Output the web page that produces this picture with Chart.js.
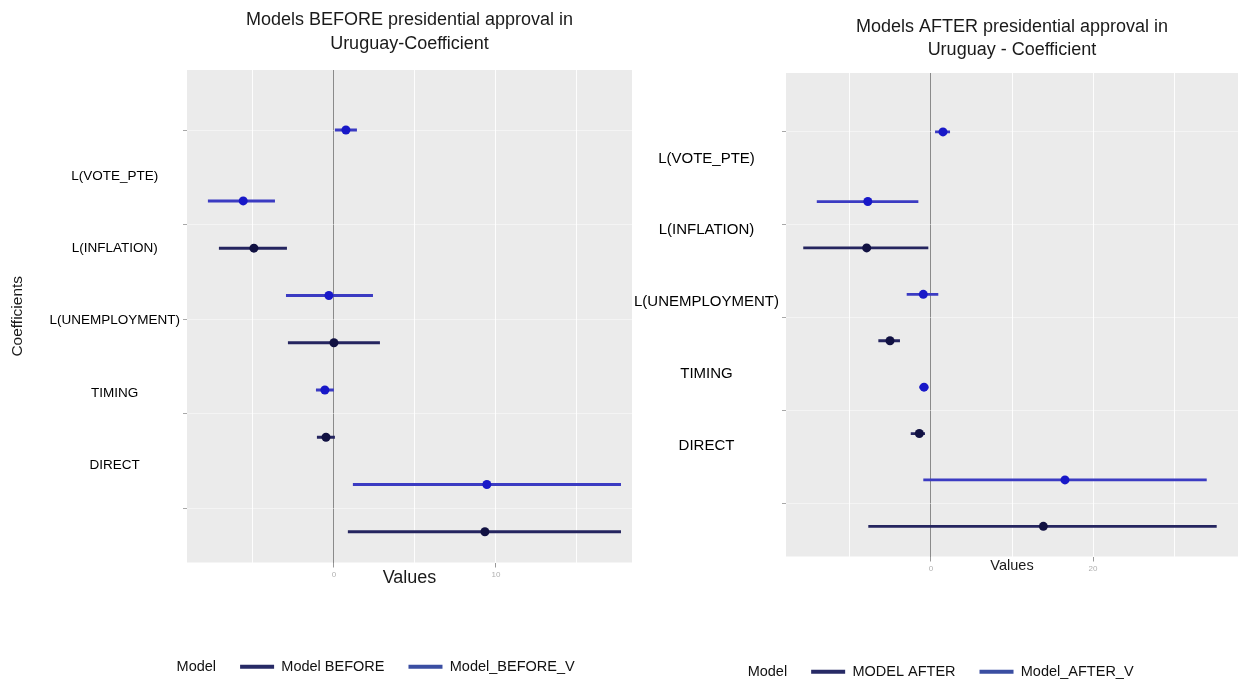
<!DOCTYPE html>
<html>
<head>
<meta charset="utf-8">
<script src="https://cdn.jsdelivr.net/npm/chart.js@4/dist/chart.umd.min.js"></script>
<style>
  html, body { margin: 0; padding: 0; background: #fff; overflow: hidden; width: 1239px; height: 682px; }
  #wrap { position: relative; width: 1239px; height: 682px; overflow: hidden; }
  canvas { position: absolute; top: 0; }
  #before { left: 0; }
  #after { left: 560px; }
</style>
</head>
<body>
<div id="wrap">
  <canvas id="before" width="710" height="684"></canvas>
  <canvas id="after" width="720" height="689"></canvas>
</div>
<script>
// Coefficient names shown on the left of each panel
const coefficients = ['L(VOTE_PTE)', 'L(INFLATION)', 'L(UNEMPLOYMENT)', 'TIMING', 'DIRECT'];

// Estimates and interval bounds, model BEFORE
const beforeEst   = [null, -4.94, 0.00, -0.49, 9.32];
const beforeLow   = [null, -7.10, -2.84, -1.05, 0.86];
const beforeHigh  = [null, -2.90, 2.84, 0.06, 17.72];
const beforeVEst  = [0.74, -5.60, -0.31, -0.56, 9.44];
const beforeVLow  = [0.06, -7.78, -2.96, -1.11, 1.17];
const beforeVHigh = [1.42, -3.64, 2.41, 0.00, 17.72];
const beforeTickLabels = [0, 10];

// Estimates and interval bounds, model AFTER
const afterEst   = [null, -7.94, -5.06, -1.44, 13.87];
const afterLow   = [null, -15.77, -6.50, -2.50, -7.74];
const afterHigh  = [null, -0.33, -3.83, -0.74, 35.27];
const afterVEst  = [1.48, -7.80, -0.95, -0.86, 16.54];
const afterVLow  = [0.50, -14.10, -3.00, -1.44, -0.95];
const afterVHigh = [2.35, -1.56, 0.90, -0.33, 34.04];
const afterTickLabels = [0, 20];

const FONT = "'Liberation Sans', Arial, sans-serif";
const DARK_LINE = '#25255f';
const DARK_POINT = '#111142';
const BLUE_LINE = '#3b3bc2';
const BLUE_POINT = '#1818c8';
const DARK_KEY = '#272a66';
const BLUE_KEY = '#3a4ea2';

const Y_MIN = -1.27, Y_MAX = 9.15;

// grey panel behind the data, like a ggplot theme
const plotBackground = {
  id: 'plotBackground',
  beforeDraw(chart) {
    const { ctx, chartArea: a } = chart;
    ctx.save();
    ctx.fillStyle = '#ebebeb';
    ctx.fillRect(a.left, a.top, a.width, a.height);
    ctx.restore();
  }
};

// one point series plus one segment per interval, dodged around each coefficient row
function buildSeries(label, est, low, high, other, offset, lineColor, pointColor, lineWidth) {
  const points = [];
  const bars = [];
  est.forEach((v, i) => {
    if (v == null) return;
    const y = other[i] == null ? 2 * i : 2 * i + offset;
    points.push({ x: v, y });
    bars.push({
      type: 'scatter', label, showLine: true,
      data: [{ x: low[i], y }, { x: high[i], y }],
      borderColor: lineColor, borderWidth: lineWidth,
      pointRadius: 0, pointHoverRadius: 0
    });
  });
  return {
    points: {
      type: 'scatter', label, data: points,
      pointRadius: 4.5, pointHoverRadius: 4.5,
      pointBackgroundColor: pointColor, pointBorderWidth: 0
    },
    bars
  };
}

function drawPanel(id, p) {
  const base = buildSeries(p.names[0], p.est, p.low, p.high, p.vEst, 0.5, DARK_LINE, DARK_POINT, p.barWidth);
  const varied = buildSeries(p.names[1], p.vEst, p.vLow, p.vHigh, p.est, -0.5, BLUE_LINE, BLUE_POINT, p.barWidth);
  const datasets = [base.points, varied.points, ...base.bars, ...varied.bars];

  const gridValues = [];
  for (let v = Math.ceil(p.xMin / p.gridStep) * p.gridStep; v <= p.xMax; v += p.gridStep) gridValues.push(v);

  new Chart(document.getElementById(id), {
    data: { datasets },
    options: {
      responsive: false,
      animation: false,
      devicePixelRatio: 1,
      layout: { padding: 0 },
      plugins: {
        title: {
          display: true, fullSize: false, text: p.title, color: '#1a1a1a',
          font: { family: FONT, size: 18, weight: 'normal', lineHeight: p.titleLineHeight },
          padding: { top: p.titlePadTop, bottom: p.titlePadBottom }
        },
        legend: {
          position: 'bottom',
          labels: {
            font: { family: FONT, size: 14.5 }, color: '#111',
            boxWidth: 34, boxHeight: 4, padding: 24,
            generateLabels: () => [
              { text: 'Model', fillStyle: 'rgba(0,0,0,0)', strokeStyle: 'rgba(0,0,0,0)', lineWidth: 0, hidden: false, fontColor: '#111' },
              { text: p.names[0], fillStyle: DARK_KEY, strokeStyle: DARK_KEY, lineWidth: 0, hidden: false, fontColor: '#111', datasetIndex: 0 },
              { text: p.names[1], fillStyle: BLUE_KEY, strokeStyle: BLUE_KEY, lineWidth: 0, hidden: false, fontColor: '#111', datasetIndex: 1 }
            ]
          },
          onClick: () => {}
        },
        tooltip: { enabled: false }
      },
      scales: {
        x: {
          type: 'linear', min: p.xMin, max: p.xMax,
          afterBuildTicks: s => { s.ticks = gridValues.map(v => ({ value: v })); },
          ticks: {
            autoSkip: false, maxRotation: 0, padding: 2,
            color: '#b0b0b0', font: { family: FONT, size: 8 },
            callback: v => p.tickLabels.includes(v) ? String(v) : ''
          },
          grid: {
            color: c => (c.tick && c.tick.value === 0) ? '#8a8a8a' : 'rgba(255,255,255,0.9)',
            lineWidth: 1,
            tickColor: c => (c.tick && p.tickLabels.includes(c.tick.value)) ? '#9a9a9a' : 'rgba(0,0,0,0)',
            tickLength: 5
          },
          border: { display: false },
          title: {
            display: true, text: 'Values', color: '#1a1a1a',
            font: { family: FONT, size: p.xTitleSize },
            padding: { top: 0, bottom: p.xTitlePadBottom }
          },
          afterFit: s => { s.height = p.xAxisHeight; }
        },
        y: {
          type: 'linear', reverse: true, min: Y_MIN, max: Y_MAX,
          afterBuildTicks: s => { s.ticks = coefficients.map((_, i) => ({ value: 2 * i })); },
          ticks: { display: false },
          grid: { color: 'rgba(255,255,255,0.45)', tickColor: '#a8a8a8', tickLength: 4 },
          border: { display: false },
          afterFit: s => { s.width = 4; }
        },
        names: {
          type: 'linear', position: 'left', weight: 1, reverse: true, min: Y_MIN, max: Y_MAX,
          afterBuildTicks: s => { s.ticks = coefficients.map((_, i) => ({ value: p.labelStart + i * p.labelStep })); },
          ticks: {
            autoSkip: false, crossAlign: 'center', padding: 3,
            color: '#000', font: { family: FONT, size: p.labelSize },
            callback: (v, i) => coefficients[i]
          },
          grid: { display: false, drawTicks: false },
          border: { display: false },
          title: {
            display: !!p.yTitle, text: p.yTitle || '', color: '#1a1a1a',
            font: { family: FONT, size: 15.5 },
            padding: { top: 8.7, bottom: 0 }
          },
          afterFit: s => { s.width = p.labelAxisWidth; }
        },
        reserve: {
          type: 'linear', position: 'right', display: true,
          ticks: { display: false },
          grid: { display: false, drawTicks: false },
          border: { display: false },
          afterFit: s => { s.width = p.rightReserve; }
        }
      }
    },
    plugins: [plotBackground]
  });
}

drawPanel('before', {
  title: ['Models BEFORE presidential approval in', 'Uruguay-Coefficient'],
  names: ['Model BEFORE', 'Model_BEFORE_V'],
  est: beforeEst, low: beforeLow, high: beforeHigh,
  vEst: beforeVEst, vLow: beforeVLow, vHigh: beforeVHigh,
  tickLabels: beforeTickLabels,
  xMin: -9.07, xMax: 18.4, gridStep: 5,
  barWidth: 3,
  titleLineHeight: 24 / 18, titlePadTop: 8, titlePadBottom: 14,
  xTitleSize: 18, xTitlePadBottom: 47, xAxisHeight: 73,
  labelStart: 0.97, labelStep: 1.53, labelSize: 13.5, labelAxisWidth: 183,
  yTitle: 'Coefficients',
  rightReserve: 78
});

drawPanel('after', {
  title: ['Models AFTER presidential approval in', 'Uruguay - Coefficient'],
  names: ['MODEL AFTER', 'Model_AFTER_V'],
  est: afterEst, low: afterLow, high: afterHigh,
  vEst: afterVEst, vLow: afterVLow, vHigh: afterVHigh,
  tickLabels: afterTickLabels,
  xMin: -17.9, xMax: 37.9, gridStep: 10,
  barWidth: 2.8,
  titleLineHeight: 23 / 18, titlePadTop: 15.5, titlePadBottom: 11.5,
  xTitleSize: 14.5, xTitlePadBottom: 66, xAxisHeight: 84,
  labelStart: 0.57, labelStep: 1.55, labelSize: 15, labelAxisWidth: 222,
  yTitle: null,
  rightReserve: 42
});
</script>
</body>
</html>
